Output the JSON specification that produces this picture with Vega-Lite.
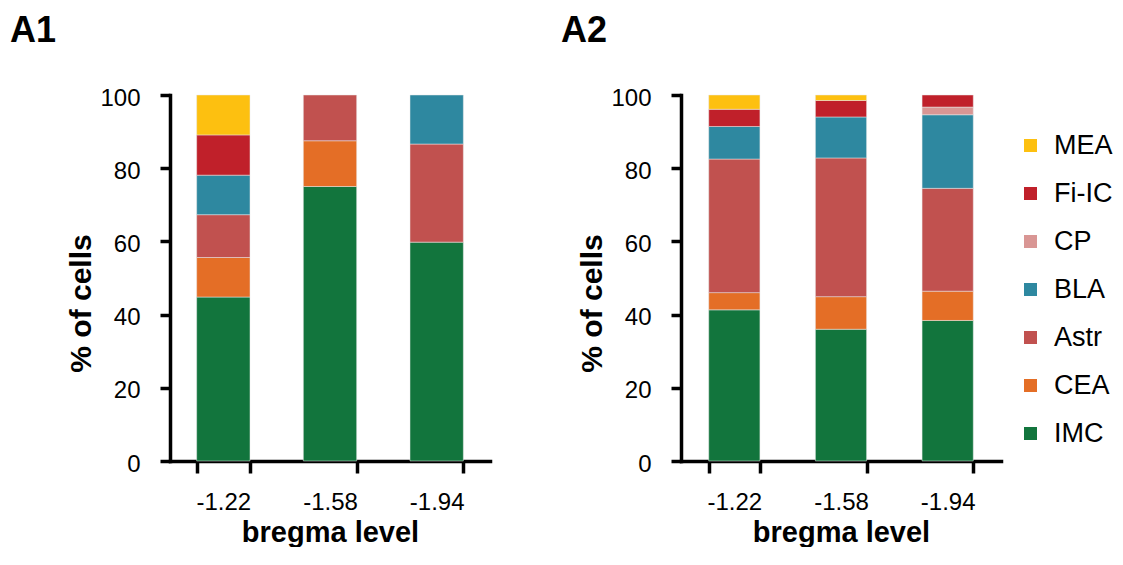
{
  "$schema": "https://vega.github.io/schema/vega-lite/v6.json",
  "padding": {"left": 10, "top": 13, "right": 0, "bottom": 0},
  "background": "white",
  "datasets": {
    "ranks": [
      {"region": "IMC", "rank": 1},
      {"region": "CEA", "rank": 2},
      {"region": "Astr", "rank": 3},
      {"region": "BLA", "rank": 4},
      {"region": "CP", "rank": 5},
      {"region": "Fi-IC", "rank": 6},
      {"region": "MEA", "rank": 7}
    ]
  },
  "data": {
    "values": [
      {"panel": "A1", "level": "-1.22", "region": "IMC", "pct": 44.8},
      {"panel": "A1", "level": "-1.22", "region": "CEA", "pct": 10.8},
      {"panel": "A1", "level": "-1.22", "region": "Astr", "pct": 11.7},
      {"panel": "A1", "level": "-1.22", "region": "BLA", "pct": 10.8},
      {"panel": "A1", "level": "-1.22", "region": "Fi-IC", "pct": 11.0},
      {"panel": "A1", "level": "-1.22", "region": "MEA", "pct": 10.9},
      {"panel": "A1", "level": "-1.58", "region": "IMC", "pct": 75.0},
      {"panel": "A1", "level": "-1.58", "region": "CEA", "pct": 12.5},
      {"panel": "A1", "level": "-1.58", "region": "Astr", "pct": 12.5},
      {"panel": "A1", "level": "-1.94", "region": "IMC", "pct": 59.8},
      {"panel": "A1", "level": "-1.94", "region": "Astr", "pct": 26.8},
      {"panel": "A1", "level": "-1.94", "region": "BLA", "pct": 13.4},
      {"panel": "A2", "level": "-1.22", "region": "IMC", "pct": 41.3},
      {"panel": "A2", "level": "-1.22", "region": "CEA", "pct": 4.7},
      {"panel": "A2", "level": "-1.22", "region": "Astr", "pct": 36.5},
      {"panel": "A2", "level": "-1.22", "region": "BLA", "pct": 8.9},
      {"panel": "A2", "level": "-1.22", "region": "Fi-IC", "pct": 4.7},
      {"panel": "A2", "level": "-1.22", "region": "MEA", "pct": 3.9},
      {"panel": "A2", "level": "-1.58", "region": "IMC", "pct": 36.0},
      {"panel": "A2", "level": "-1.58", "region": "CEA", "pct": 8.9},
      {"panel": "A2", "level": "-1.58", "region": "Astr", "pct": 37.9},
      {"panel": "A2", "level": "-1.58", "region": "BLA", "pct": 11.2},
      {"panel": "A2", "level": "-1.58", "region": "Fi-IC", "pct": 4.5},
      {"panel": "A2", "level": "-1.58", "region": "MEA", "pct": 1.5},
      {"panel": "A2", "level": "-1.94", "region": "IMC", "pct": 38.4},
      {"panel": "A2", "level": "-1.94", "region": "CEA", "pct": 8.0},
      {"panel": "A2", "level": "-1.94", "region": "Astr", "pct": 28.1},
      {"panel": "A2", "level": "-1.94", "region": "BLA", "pct": 20.1},
      {"panel": "A2", "level": "-1.94", "region": "CP", "pct": 2.1},
      {"panel": "A2", "level": "-1.94", "region": "Fi-IC", "pct": 3.3}
    ]
  },
  "spacing": 71,
  "hconcat": [
    {
      "title": {"text": "A1", "anchor": "start", "frame": "group", "dx": -160, "dy": -32},
      "width": 320,
      "height": 366,
      "transform": [
        {"filter": "datum.panel === 'A1'"},
        {"lookup": "region", "from": {"data": {"name": "ranks"}, "key": "region", "fields": ["rank"]}}
      ],
      "mark": {"type": "bar", "stroke": "#e8e8e8", "strokeWidth": 0.5},
      "encoding": {
        "x": {
          "field": "level", "type": "nominal", "sort": ["-1.22", "-1.58", "-1.94"],
          "scale": {"paddingInner": 0.5, "paddingOuter": 0.25},
          "axis": {"title": "bregma level", "titleY": 80, "titleBaseline": "alphabetic"}
        },
        "y": {
          "field": "pct", "type": "quantitative", "stack": "zero",
          "scale": {"domain": [0, 100], "nice": false},
          "axis": {"title": "% of cells", "values": [0, 20, 40, 60, 80, 100], "titleX": -80, "titleY": 208, "titleBaseline": "alphabetic"}
        },
        "order": {"field": "rank", "type": "quantitative", "sort": "ascending"},
        "color": {
          "field": "region", "type": "nominal",
          "scale": {
            "domain": ["MEA", "Fi-IC", "CP", "BLA", "Astr", "CEA", "IMC"],
            "range": ["#FDC010", "#C0202A", "#D99694", "#2E88A0", "#C1514F", "#E46E26", "#12753D"]
          },
          "legend": {
            "title": null,
            "orient": "none",
            "legendX": 847,
            "legendY": 37,
            "symbolType": "square",
            "symbolSize": 169,
            "symbolStrokeWidth": 0,
            "labelFontSize": 27,
            "labelFont": "Liberation Sans",
            "labelColor": "black",
            "labelOffset": 10,
            "rowPadding": 20
          }
        }
      }
    },
    {
      "title": {"text": "A2", "anchor": "start", "frame": "group", "dx": -120, "dy": -32},
      "width": 320,
      "height": 366,
      "transform": [
        {"filter": "datum.panel === 'A2'"},
        {"lookup": "region", "from": {"data": {"name": "ranks"}, "key": "region", "fields": ["rank"]}}
      ],
      "mark": {"type": "bar", "stroke": "#e8e8e8", "strokeWidth": 0.5},
      "encoding": {
        "x": {
          "field": "level", "type": "nominal", "sort": ["-1.22", "-1.58", "-1.94"],
          "scale": {"paddingInner": 0.52, "paddingOuter": 0.26},
          "axis": {"title": "bregma level", "titleY": 80, "titleBaseline": "alphabetic"}
        },
        "y": {
          "field": "pct", "type": "quantitative", "stack": "zero",
          "scale": {"domain": [0, 100], "nice": false},
          "axis": {"title": "% of cells", "values": [0, 20, 40, 60, 80, 100], "titleX": -80, "titleY": 208, "titleBaseline": "alphabetic"}
        },
        "order": {"field": "rank", "type": "quantitative", "sort": "ascending"},
        "color": {"field": "region", "type": "nominal"}
      }
    }
  ],
  "config": {
    "view": {"stroke": null},
    "font": "Liberation Sans",
    "title": {"font": "Liberation Sans", "fontSize": 36, "fontWeight": "bold", "color": "black"},
    "axis": {
      "domainColor": "black", "domainWidth": 3.5, "tickColor": "black", "tickWidth": 3.5,
      "labelFont": "Liberation Sans", "labelFontSize": 24, "labelColor": "black",
      "titleFont": "Liberation Sans", "titleFontSize": 30, "titleFontWeight": "bold", "titleColor": "black",
      "grid": false
    },
    "axisX": {"labelAngle": 0, "tickBand": "extent", "tickSize": 12, "labelPadding": 36, "labelFontSize": 24, "titleFontSize": 29, "labelBaseline": "alphabetic", "domainCap": "square"},
    "axisY": {"tickSize": 10, "labelPadding": 20, "labelOffset": 3, "domainCap": "square"}
  }
}
